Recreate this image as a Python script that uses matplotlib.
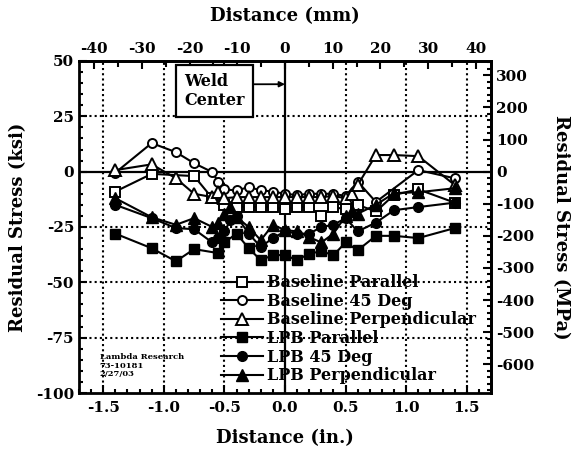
import matplotlib
matplotlib.use("Agg")
import matplotlib.pyplot as plt
from matplotlib.ticker import MultipleLocator

plt.rcParams['font.family'] = ['DejaVu Serif']
plt.rcParams['font.weight'] = 'bold'
plt.rcParams['axes.unicode_minus'] = False

# ---------------- data (x in inches, stress in ksi) ----------------
bp_x = [-1.4, -1.1, -0.75, -0.6, -0.5, -0.4, -0.3, -0.2, -0.1, 0.0, 0.1, 0.2, 0.3, 0.4, 0.5, 0.6, 0.75, 0.9, 1.1, 1.4]
bp_y = [-9, -1, -2, -12, -15, -16, -16, -16, -16, -17, -16, -16, -20, -16, -17, -15, -18, -10.5, -8, -14]

b45_x = [-1.4, -1.1, -0.9, -0.75, -0.6, -0.55, -0.5, -0.4, -0.3, -0.2, -0.1, 0.0, 0.1, 0.2, 0.3, 0.4, 0.5, 0.6, 0.75, 1.1, 1.4]
b45_y = [-0.5, 12.9, 8.8, 3.8, -0.2, -4.7, -8, -8.5, -7, -8.4, -9, -10, -10.6, -10, -10, -10, -11, -4.5, -13.7, 0.7, -3]

bpe_x = [-1.4, -1.1, -0.9, -0.75, -0.6, -0.55, -0.5, -0.4, -0.3, -0.2, -0.1, 0.0, 0.1, 0.2, 0.3, 0.4, 0.5, 0.55, 0.6, 0.75, 0.9, 1.1, 1.4]
bpe_y = [0.7, 3.3, -3, -10, -11.5, -9, -12, -11.5, -11.5, -11.5, -11.5, -11.5, -11.5, -11.5, -11.5, -11, -12, -10, -6, 7.5, 7.5, 7, -6]

lp_x = [-1.4, -1.1, -0.9, -0.75, -0.55, -0.5, -0.4, -0.3, -0.2, -0.1, 0.0, 0.1, 0.2, 0.3, 0.4, 0.5, 0.6, 0.75, 0.9, 1.1, 1.4]
lp_y = [-28, -34.6, -40.5, -35, -36.8, -32, -28, -34.6, -40, -37.7, -37.7, -40, -37, -36, -37.7, -32, -35.5, -29, -29, -30, -25.5]

l45_x = [-1.4, -1.1, -0.9, -0.75, -0.6, -0.55, -0.5, -0.45, -0.4, -0.3, -0.2, -0.1, 0.0, 0.1, 0.2, 0.3, 0.4, 0.5, 0.6, 0.75, 0.9, 1.1, 1.4]
l45_y = [-15, -21, -25.5, -26, -32, -30, -27, -22, -20, -28, -34, -30, -27, -28, -28, -25, -24, -21, -27, -23, -17.4, -16, -14]

lpe_x = [-1.4, -1.1, -0.9, -0.75, -0.6, -0.55, -0.5, -0.45, -0.4, -0.3, -0.2, -0.1, 0.0, 0.1, 0.2, 0.3, 0.4, 0.5, 0.55, 0.6, 0.75, 0.9, 1.1, 1.4]
lpe_y = [-12, -20.6, -24, -21, -25, -23, -19, -16, -20.5, -25, -31, -24, -26.4, -27, -29.6, -32, -28, -20, -18, -19, -15, -9.7, -9.3, -7.5]

labels = ['Baseline Parallel', 'Baseline 45 Deg', 'Baseline Perpendicular',
          'LPB Parallel', 'LPB 45 Deg', 'LPB Perpendicular']

x_ticks = [-1.5, -1.0, -0.5, 0.0, 0.5, 1.0, 1.5]
y_ticks = [-100, -75, -50, -25, 0, 25, 50]
mm_ticks = [-40, -30, -20, -10, 0, 10, 20, 30, 40]
mpa_ticks = [-600, -500, -400, -300, -200, -100, 0, 100, 200, 300]

KSI2MPA = 6.895
IN2MM = 25.4

fig = plt.figure(figsize=(5.82, 4.49), dpi=100)
ax = fig.add_axes([0.1357, 0.1247, 0.708, 0.7395])
ax.set_xlim(-1.7, 1.7)
ax.set_ylim(-100, 50)

# grid
for xv in x_ticks:
    if xv == 0:
        ax.axvline(0, color='black', lw=1.6, zorder=1)
    else:
        ax.axvline(xv, color='black', lw=1.5, ls=(0, (1, 1.5)), zorder=1)
for yv in y_ticks[1:-1]:
    if yv == 0:
        ax.axhline(0, color='black', lw=1.6, zorder=1)
    else:
        ax.axhline(yv, color='black', lw=1.5, ls=(0, (1, 1.5)), zorder=1)

lw = 1.5
mew = 1.4
ax.plot(bp_x, bp_y, '-', color='black', lw=lw, marker='s', ms=7, mfc='white', mec='black', mew=mew, label=labels[0], zorder=3)
ax.plot(b45_x, b45_y, '-', color='black', lw=lw, marker='o', ms=6.5, mfc='white', mec='black', mew=mew, label=labels[1], zorder=3)
ax.plot(bpe_x, bpe_y, '-', color='black', lw=lw, marker='^', ms=8.5, mfc='white', mec='black', mew=mew, label=labels[2], zorder=3)
ax.plot(lp_x, lp_y, '-', color='black', lw=lw, marker='s', ms=7.5, mfc='black', mec='black', label=labels[3], zorder=4)
ax.plot(l45_x, l45_y, '-', color='black', lw=lw, marker='o', ms=7, mfc='black', mec='black', label=labels[4], zorder=4)
ax.plot(lpe_x, lpe_y, '-', color='black', lw=lw, marker='^', ms=9, mfc='black', mec='black', label=labels[5], zorder=4)

# ticks
ax.set_xticks(x_ticks)
ax.set_xticklabels(['%.1f' % v for v in x_ticks])
ax.xaxis.set_minor_locator(MultipleLocator(0.1))
ax.set_yticks(y_ticks)
ax.yaxis.set_minor_locator(MultipleLocator(5))
ax.tick_params(which='both', direction='in', width=1.5, labelsize=11)
ax.tick_params(which='major', length=6)
ax.tick_params(which='minor', length=3)
ax.tick_params(axis='x', pad=6)
for s in ax.spines.values():
    s.set_linewidth(2)

secx = ax.secondary_xaxis('top', functions=(lambda v: v * IN2MM, lambda v: v / IN2MM))
secx.set_xticks(mm_ticks)
secx.xaxis.set_minor_locator(MultipleLocator(5))
secx.tick_params(which='both', direction='in', width=1.5, labelsize=11)
secx.tick_params(which='major', length=6)
secx.tick_params(which='minor', length=4)
secx.spines['top'].set_linewidth(2)

secy = ax.secondary_yaxis('right', functions=(lambda v: v * KSI2MPA, lambda v: v / KSI2MPA))
secy.set_yticks(mpa_ticks)
secy.yaxis.set_minor_locator(MultipleLocator(20))
secy.tick_params(which='both', direction='in', width=1.5, labelsize=11)
secy.tick_params(which='major', length=6)
secy.tick_params(which='minor', length=3)
secy.spines['right'].set_linewidth(2)

ax.set_xlabel('Distance (in.)', fontsize=13, fontweight='bold', labelpad=10)
ax.set_ylabel('Residual Stress (ksi)', fontsize=13, fontweight='bold', labelpad=6)
secx.set_xlabel('Distance (mm)', fontsize=13, fontweight='bold', labelpad=15)
secy.set_ylabel('Residual Stress (MPa)', fontsize=13, fontweight='bold', rotation=270, labelpad=26)

leg = ax.legend(loc='upper left', bbox_to_anchor=(0.345, 0.358), frameon=False,
                fontsize=11.5, handlelength=2.6, handletextpad=0.3, labelspacing=0.1,
                borderpad=0, borderaxespad=0)

ax.annotate('Weld\nCenter', xy=(0.0, 39.5), xytext=(-0.83, 36.5),
            fontsize=11.5, fontweight='bold', ha='left', va='center',
            bbox=dict(boxstyle='square,pad=0.5', fc='white', ec='black', lw=1.6),
            arrowprops=dict(arrowstyle='-|>', color='black', lw=1.3, mutation_scale=8,
                            shrinkA=0, shrinkB=0, relpos=(1.0, 0.68)), zorder=6)

ax.text(-1.53, -82, 'Lambda Research\n73-10181\n2/27/03', fontsize=6,
        fontweight='bold', ha='left', va='top', linespacing=1.1)

fig.savefig('out.png', dpi=100)
